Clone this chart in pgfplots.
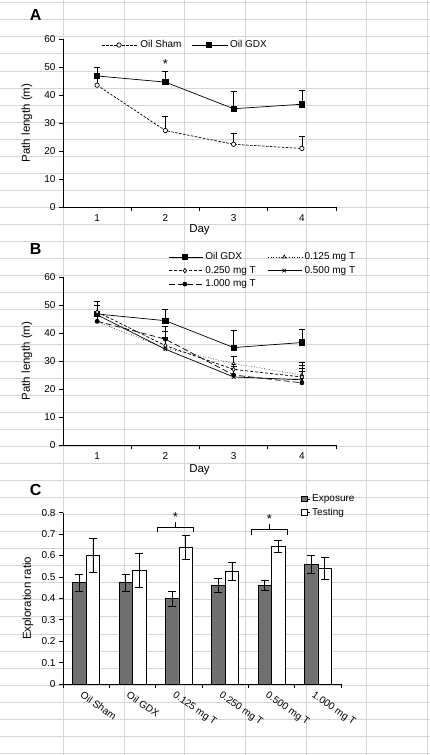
\documentclass[border=0pt]{standalone}
\usepackage{fontspec}
\setmainfont{Liberation Sans}
\usepackage{pgfplots}
\pgfplotsset{compat=1.18}
\definecolor{gridc}{RGB}{214,214,214}
\definecolor{expc}{RGB}{112,112,112}

\pgfplotsset{
  mybase/.style={
    scale only axis, anchor=south west,
    axis x line*=bottom, axis y line*=left,
    axis line style={-, black, line width=0.7pt},
    tick align=outside, major tick length=4pt, minor tick length=4pt,
    tick style={black, line width=0.7pt},
    major x tick style={draw=none},
    minor x tick style={black, line width=0.7pt},
    /pgf/number format/assume math mode=true,
    tick label style={font=\fontsize{10}{12}\selectfont},
    label style={font=\fontsize{11.5}{13}\selectfont},
    legend cell align=left,
    legend style={font=\fontsize{10}{12}\selectfont, draw=none, fill=none},
  },
  eb/.style={
    error bars/y dir=plus, error bars/y explicit,
    error bars/error bar style={solid, line width=0.6pt, black},
    error bars/error mark options={rotate=90, mark size=3pt, solid, line width=0.6pt, black},
  },
}

\begin{document}
\begin{tikzpicture}
\useasboundingbox (0pt,0pt) rectangle (430pt,-755pt);
\fill[white] (0pt,0pt) rectangle (430pt,-755pt);
% spreadsheet background grid
\foreach \k in {0,...,44} {\draw[gridc, line width=0.8pt] (0pt,{-2.7pt-17.06pt*\k}) -- (430pt,{-2.7pt-17.06pt*\k});}
\foreach \k in {0,...,6} {\draw[gridc, line width=0.8pt] ({63.3pt+60.7pt*\k},0pt) -- ({63.3pt+60.7pt*\k},-755pt);}

% ---------------- Panel A ----------------
\node[font=\bfseries\fontsize{16}{16}\selectfont] at (35.7pt,-15pt) {A};
\begin{axis}[mybase,
  at={(63pt,-207pt)}, width=273pt, height=168pt,
  xmin=0.5, xmax=4.5, ymin=0, ymax=60,
  xtick={1,2,3,4}, minor xtick={1.5,2.5,3.5,4.5},
  ytick={0,10,20,30,40,50,60},
  xlabel={Day}, ylabel={Path length (m)},
  xlabel style={at={(axis description cs:0.5,-0.137)}, anchor=center},
  ylabel style={at={(axis description cs:-0.132,0.5)}, anchor=center},
  legend columns=2,
  legend style={at={(axis description cs:0.13,0.964)}, anchor=west,
    /tikz/every even column/.append style={column sep=8pt}},
  legend image code/.code={\path (0pt,0pt) -- (36pt,0pt);\draw[mark repeat=2,mark phase=2,#1] plot coordinates {(0pt,0pt) (17pt,0pt) (34pt,0pt)};},
]
\addplot[black, line width=0.7pt, dash pattern=on 2.5pt off 1.5pt, mark=*, mark size=2.2pt, mark options={solid, fill=white}, eb]
  coordinates {(1,43.5) +- (0,2.5) (2,27.3) +- (0,5.1) (3,22.4) +- (0,3.8) (4,20.9) +- (0,4.2)};
\addplot[black, line width=0.7pt, mark=square*, mark size=2.7pt, mark options={solid}, eb]
  coordinates {(1,46.8) +- (0,3.1) (2,44.6) +- (0,3.8) (3,35.1) +- (0,6.3) (4,36.7) +- (0,4.9)};
\legend{Oil Sham, Oil GDX}
\node[font=\fontsize{13}{13}\selectfont] at (axis cs:2,51.2) {*};
\end{axis}

% ---------------- Panel B ----------------
\node[font=\bfseries\fontsize{16}{16}\selectfont] at (35.7pt,-249pt) {B};
\begin{axis}[mybase,
  at={(63pt,-445pt)}, width=273pt, height=168pt,
  xmin=0.5, xmax=4.5, ymin=0, ymax=60,
  xtick={1,2,3,4}, minor xtick={1.5,2.5,3.5,4.5},
  ytick={0,10,20,30,40,50,60},
  xlabel={Day}, ylabel={Path length (m)},
  xlabel style={at={(axis description cs:0.5,-0.149)}, anchor=center},
  ylabel style={at={(axis description cs:-0.132,0.5)}, anchor=center},
  legend columns=2,
  legend style={at={(axis description cs:0.375,1.17)}, anchor=north west, row sep=1pt,
    /tikz/every even column/.append style={column sep=10pt}},
  legend image code/.code={\path (0pt,0pt) -- (34pt,0pt);\draw[mark repeat=2,mark phase=2,#1] plot coordinates {(0pt,0pt) (16pt,0pt) (32pt,0pt)};},
]
\addplot[black, line width=0.7pt, mark=square*, mark size=2.7pt, mark options={solid}, eb]
  coordinates {(1,46.8) +- (0,3.1) (2,44.4) +- (0,4.1) (3,34.8) +- (0,6.2) (4,36.6) +- (0,4.9)};
\addplot[black, line width=0.6pt, dotted, mark=triangle*, mark size=2pt, mark options={solid, fill=white}, eb]
  coordinates {(1,44.0) +- (0,3.5) (2,34.6) +- (0,4.0) (3,29.1) +- (0,2.7) (4,25.0) +- (0,4.4)};
\addplot[black, line width=0.7pt, dash pattern=on 3pt off 2pt, mark=diamond*, mark size=2.2pt, mark options={solid, fill=white}, eb]
  coordinates {(1,47.5) +- (0,4.0) (2,35.5) +- (0,5.0) (3,27.0) +- (0,4.6) (4,24.3) +- (0,4.2)};
\addplot[black, line width=0.7pt, mark=x, mark size=2.5pt, mark options={solid}, eb]
  coordinates {(1,46.5) +- (0,3.5) (2,34.2) +- (0,3.8) (3,24.3) +- (0,2.7) (4,23.3) +- (0,3.2)};
\addplot[black, line width=0.7pt, dash pattern=on 6pt off 3pt, mark=*, mark size=2pt, mark options={solid}, eb]
  coordinates {(1,44.2) +- (0,3.3) (2,37.8) +- (0,4.7) (3,25.0) +- (0,3.0) (4,22.2) +- (0,5.3)};
\legend{Oil GDX, 0.125 mg T, 0.250 mg T, 0.500 mg T, 1.000 mg T}
\end{axis}

% ---------------- Panel C ----------------
\node[font=\bfseries\fontsize{16}{16}\selectfont] at (35.7pt,-490pt) {C};
\begin{axis}[mybase,
  at={(63pt,-684pt)}, width=278pt, height=171.3pt,
  xmin=-0.5, xmax=5.5, ymin=0, ymax=0.8,
  ybar=0pt, bar width=13.5pt,
  xtick={0,1,2,3,4,5}, minor xtick={-0.5,0.5,1.5,2.5,3.5,4.5,5.5},
  xticklabels={Oil Sham, Oil GDX, 0.125 mg T, 0.250 mg T, 0.500 mg T, 1.000 mg T},
  xticklabel style={rotate=-35, anchor=north west, xshift=-4pt},
  ytick={0,0.1,0.2,0.3,0.4,0.5,0.6,0.7,0.8},
  ylabel={Exploration ratio},
  ylabel style={at={(axis description cs:-0.126,0.5)}, anchor=center},
  legend columns=1,
  legend style={at={(axis description cs:0.845,1.13)}, anchor=north west, row sep=1pt},
  legend image code/.code={\path (0pt,0pt) -- (8.5pt,0pt);\draw[#1] (0pt,-2.8pt) rectangle (5.6pt,2.8pt);},
]
\addplot[draw=black, fill=expc, line width=0.6pt,
  error bars/y dir=both, error bars/y explicit,
  error bars/error bar style={line width=0.7pt, black},
  error bars/error mark options={rotate=90, mark size=4pt, line width=0.7pt, black}]
  coordinates {(0,0.473) +- (0,0.039) (1,0.473) +- (0,0.039) (2,0.398) +- (0,0.034)
               (3,0.461) +- (0,0.034) (4,0.461) +- (0,0.023) (5,0.559) +- (0,0.044)};
\addplot[draw=black, fill=white, line width=0.6pt,
  error bars/y dir=both, error bars/y explicit,
  error bars/error bar style={line width=0.7pt, black},
  error bars/error mark options={rotate=90, mark size=4pt, line width=0.7pt, black}]
  coordinates {(0,0.601) +- (0,0.081) (1,0.530) +- (0,0.079) (2,0.637) +- (0,0.056)
               (3,0.525) +- (0,0.042) (4,0.643) +- (0,0.027) (5,0.540) +- (0,0.050)};
\legend{Exposure, Testing}
\draw[black, line width=0.7pt] (axis cs:1.535,0.709) -- (axis cs:1.535,0.732) -- (axis cs:2.312,0.732) -- (axis cs:2.312,0.709);
\draw[black, line width=0.7pt] (axis cs:1.924,0.732) -- (axis cs:1.924,0.755);
\draw[black, line width=0.7pt] (axis cs:3.558,0.696) -- (axis cs:3.558,0.723) -- (axis cs:4.335,0.723) -- (axis cs:4.335,0.696);
\draw[black, line width=0.7pt] (axis cs:3.953,0.723) -- (axis cs:3.953,0.746);
\node[font=\fontsize{13}{13}\selectfont] at (axis cs:1.924,0.782) {*};
\node[font=\fontsize{13}{13}\selectfont] at (axis cs:3.953,0.7725) {*};
\end{axis}
\end{tikzpicture}
\end{document}
